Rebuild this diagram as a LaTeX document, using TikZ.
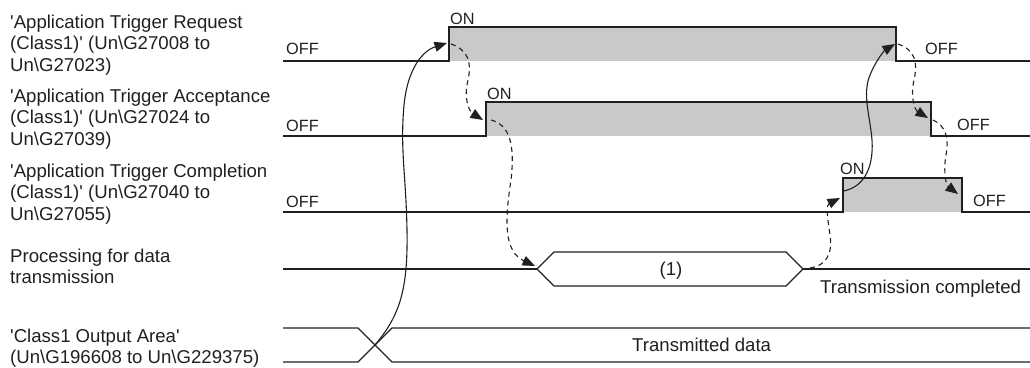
\documentclass[tikz,border=0pt]{standalone}
\usepackage{fontspec}
\setmainfont{Liberation Sans}
\usetikzlibrary{arrows.meta}
\definecolor{ink}{RGB}{35,31,32}
\definecolor{hi}{RGB}{200,201,202}
\newcommand\mlines[1]{\begin{tabular}[t]{@{}l@{}}#1\end{tabular}}
\newcommand\bs{\textbackslash}
\newcommand\sq{\textquotesingle}
\begin{document}
\begin{tikzpicture}[x=1pt,y=-1pt,
  sig/.style={draw=ink, line width=1.3pt, line join=miter},
  hifill/.style={fill=hi},
  lbl/.style={anchor=base west, inner sep=0pt, font=\fontsize{18.6}{21.75}\selectfont, text=ink},
  st/.style={anchor=base west, inner sep=0pt, font=\fontsize{16.3}{18}\selectfont, text=ink},
  solidarrow/.style={draw=ink, line width=1.1pt, -{Triangle[length=12.5pt,width=10pt]}},
  dasharrow/.style={solidarrow, dash pattern=on 5pt off 4pt}]
\useasboundingbox (0,0) rectangle (1030,367);

% ---------- left labels ----------
\node[lbl] (l1) at (10,28) {\mlines{\sq Application Trigger Request\\(Class1)\sq{} (Un\bs G27008 to\\Un\bs G27023)}};
\node[lbl] (l2) at (10,102) {\mlines{\sq Application Trigger Acceptance\\(Class1)\sq{} (Un\bs G27024 to\\Un\bs G27039)}};
\node[lbl] (l3) at (10,177) {\mlines{\sq Application Trigger Completion\\(Class1)\sq{} (Un\bs G27040 to\\Un\bs G27055)}};
\node[lbl] (l4) at (10,262) {\mlines{Processing for data\\transmission}};
\node[lbl] (l5) at (10,342) {\mlines{\sq Class1 Output Area\sq\\(Un\bs G196608 to Un\bs G229375)}};

% ---------- key points ----------
\coordinate (r1s) at (283,61);  \coordinate (r1lo) at (449,61); \coordinate (r1hi) at (449,27);
\coordinate (r1fh) at (896,27); \coordinate (r1fl) at (896,61); \coordinate (r1e) at (1030,61);
\coordinate (r2s) at (283,136); \coordinate (r2lo) at (486,136); \coordinate (r2hi) at (486,102);
\coordinate (r2fh) at (931,102); \coordinate (r2fl) at (931,136); \coordinate (r2e) at (1030,136);
\coordinate (r3s) at (283,212); \coordinate (r3lo) at (843,212); \coordinate (r3hi) at (843,178);
\coordinate (r3fh) at (962,178); \coordinate (r3fl) at (962,212); \coordinate (r3e) at (1030,212);

% ---------- row 1 ----------
\fill[hifill] (r1hi) rectangle (r1fl);
\draw[sig] (r1s) -- (r1lo) -- (r1hi) -- (r1fh) -- (r1fl) -- (r1e);
\node[st] (off1a) at (286,54) {OFF};
\node[st] (on1) at (450,24) {ON};
\node[st] (off1b) at (925,54) {OFF};

% ---------- row 2 ----------
\fill[hifill] (r2hi) rectangle (r2fl);
\draw[sig] (r2s) -- (r2lo) -- (r2hi) -- (r2fh) -- (r2fl) -- (r2e);
\node[st] (off2a) at (286,131) {OFF};
\node[st] (on2) at (487,99) {ON};
\node[st] (off2b) at (957,130) {OFF};

% ---------- row 3 ----------
\fill[hifill] (r3hi) rectangle (r3fl);
\draw[sig] (r3s) -- (r3lo) -- (r3hi) -- (r3fh) -- (r3fl) -- (r3e);
\node[st] (off3a) at (286,207) {OFF};
\node[st] (on3) at (840,174) {ON};
\node[st] (off3b) at (973,206) {OFF};

% ---------- row 4: processing ----------
\coordinate (hl) at (537,269); \coordinate (hr) at (803,269);
\draw[sig] (283,269) -- (hl);
\draw[sig] (hl) -- (554,252) -- (786,252) -- (hr) -- (786,286) -- (554,286) -- cycle;
\draw[sig] (hr) -- (1030,269);
\node[lbl, anchor=base] (p1) at (671,275) {(1)};
\node[lbl] (tc) at (820,293) {Transmission completed};

% ---------- row 5: output area ----------
\coordinate (cx) at (375,345);
\draw[sig] (283,328) -- (358,328) -- (392,362) -- (1030,362);
\draw[sig] (283,362) -- (358,362) -- (392,328) -- (1030,328);
\node[lbl] (td) at (632,351) {Transmitted data};

% ---------- arrows ----------
\coordinate (a2s) at (451,44);  \coordinate (a2e) at (483,120);
\coordinate (a3s) at (491,120); \coordinate (a3e) at (535,266);
\coordinate (a4s) at (810,268); \coordinate (a4e) at (840,198);
\coordinate (a5s) at (843,191); \coordinate (a5e) at (895,44);
\coordinate (a1e) at (447,43);
\coordinate (a6s) at (898,44);  \coordinate (a6e) at (928,118);
\coordinate (a7s) at (933,120); \coordinate (a7e) at (958,194);

\draw[solidarrow] (cx) .. controls (400,315) and (408,290) .. (407,230)
  .. controls (406,175) and (400,150) .. (404,105)
  .. controls (408,65) and (425,50) .. (a1e);
\draw[dasharrow] (a2s) .. controls (468,50) and (472,62) .. (468,80)
  .. controls (463,100) and (470,112) .. (a2e);
\draw[dasharrow] (a3s) .. controls (510,125) and (515,145) .. (511,180)
  .. controls (504,225) and (505,252) .. (a3e);
\draw[dasharrow] (a4s) .. controls (825,266) and (833,255) .. (830,235)
  .. controls (827,215) and (826,205) .. (a4e);
\draw[solidarrow] (a5s) .. controls (862,188) and (874,170) .. (872,140)
  .. controls (870,115) and (862,95) .. (870,75)
  .. controls (876,60) and (885,50) .. (a5e);
\draw[dasharrow] (a6s) .. controls (915,50) and (918,62) .. (914,80)
  .. controls (910,98) and (915,110) .. (a6e);
\draw[dasharrow] (a7s) .. controls (946,126) and (949,138) .. (946,155)
  .. controls (943,172) and (946,185) .. (a7e);
\end{tikzpicture}
\end{document}
